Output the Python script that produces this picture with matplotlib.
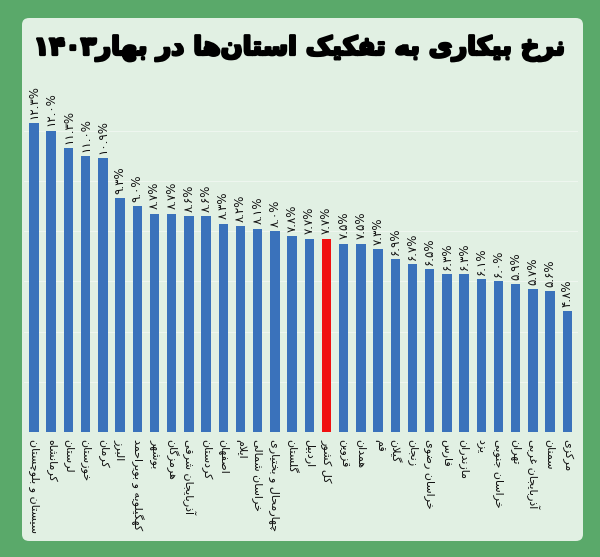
import matplotlib
matplotlib.use("Agg")
import matplotlib.pyplot as plt
import matplotlib.patheffects as pe
from matplotlib.patches import FancyBboxPatch

# ---------------- data ----------------
provinces = [
    "سیستان و بلوچستان", "کرمانشاه", "لرستان", "خوزستان", "کرمان", "البرز",
    "کهگیلویه و بویراحمد", "بوشهر", "هرمزگان", "آذربایجان شرقی", "کردستان",
    "اصفهان", "ایلام", "خراسان شمالی", "چهارمحال و بختیاری", "گلستان",
    "اردبیل", "کل کشور", "قزوین", "همدان", "قم", "گیلان", "زنجان",
    "خراسان رضوی", "فارس", "مازندران", "یزد", "خراسان جنوبی", "تهران",
    "آذربایجان غربی", "سمنان", "مرکزی",
]
rates = [12.3, 12.0, 11.3, 11.0, 10.9, 9.3, 9.0, 8.7, 8.7, 8.6, 8.6, 8.3,
         8.2, 8.1, 8.0, 7.8, 7.7, 7.7, 7.5, 7.5, 7.3, 6.9, 6.7, 6.5, 6.3,
         6.3, 6.1, 6.0, 5.9, 5.7, 5.6, 4.8]
highlight = "کل کشور"
title_text = "نرخ بیکاری به تفکیک استان‌ها در بهار"
title_year = "۱۴۰۳"

# ---------------- simple Persian shaper ----------------
FORMS = {
    'آ': ('\uFE81', '\uFE82', None, None),
    'ا': ('\uFE8D', '\uFE8E', None, None),
    'ب': ('\uFE8F', '\uFE90', '\uFE91', '\uFE92'),
    'پ': ('\uFB56', '\uFB57', '\uFB58', '\uFB59'),
    'ت': ('\uFE95', '\uFE96', '\uFE97', '\uFE98'),
    'ث': ('\uFE99', '\uFE9A', '\uFE9B', '\uFE9C'),
    'ج': ('\uFE9D', '\uFE9E', '\uFE9F', '\uFEA0'),
    'چ': ('\uFB7A', '\uFB7B', '\uFB7C', '\uFB7D'),
    'ح': ('\uFEA1', '\uFEA2', '\uFEA3', '\uFEA4'),
    'خ': ('\uFEA5', '\uFEA6', '\uFEA7', '\uFEA8'),
    'د': ('\uFEA9', '\uFEAA', None, None),
    'ذ': ('\uFEAB', '\uFEAC', None, None),
    'ر': ('\uFEAD', '\uFEAE', None, None),
    'ز': ('\uFEAF', '\uFEB0', None, None),
    'ژ': ('\uFB8A', '\uFB8B', None, None),
    'س': ('\uFEB1', '\uFEB2', '\uFEB3', '\uFEB4'),
    'ش': ('\uFEB5', '\uFEB6', '\uFEB7', '\uFEB8'),
    'ص': ('\uFEB9', '\uFEBA', '\uFEBB', '\uFEBC'),
    'ض': ('\uFEBD', '\uFEBE', '\uFEBF', '\uFEC0'),
    'ط': ('\uFEC1', '\uFEC2', '\uFEC3', '\uFEC4'),
    'ظ': ('\uFEC5', '\uFEC6', '\uFEC7', '\uFEC8'),
    'ع': ('\uFEC9', '\uFECA', '\uFECB', '\uFECC'),
    'غ': ('\uFECD', '\uFECE', '\uFECF', '\uFED0'),
    'ف': ('\uFED1', '\uFED2', '\uFED3', '\uFED4'),
    'ق': ('\uFED5', '\uFED6', '\uFED7', '\uFED8'),
    'ک': ('\uFB8E', '\uFB8F', '\uFB90', '\uFB91'),
    'گ': ('\uFB92', '\uFB93', '\uFB94', '\uFB95'),
    'ل': ('\uFEDD', '\uFEDE', '\uFEDF', '\uFEE0'),
    'م': ('\uFEE1', '\uFEE2', '\uFEE3', '\uFEE4'),
    'ن': ('\uFEE5', '\uFEE6', '\uFEE7', '\uFEE8'),
    'ه': ('\uFEE9', '\uFEEA', '\uFEEB', '\uFEEC'),
    'و': ('\uFEED', '\uFEEE', None, None),
    'ی': ('\uFBFC', '\uFBFD', '\uFBFE', '\uFBFF'),
}
LAMALEF = {'ا': ('\uFEFB', '\uFEFC'), 'آ': ('\uFEF5', '\uFEF6')}


def joins_forward(ch):
    return ch in FORMS and FORMS[ch][2] is not None


def shape(text):
    out = []
    chars = list(text)
    n = len(chars)
    i = 0
    while i < n:
        c = chars[i]
        if c not in FORMS:
            if c != '\u200c':
                out.append(c)
            i += 1
            continue
        prev = chars[i - 1] if i > 0 else None
        nxt = chars[i + 1] if i < n - 1 else None
        jp = joins_forward(prev)
        if c == 'ل' and nxt in LAMALEF:
            out.append(LAMALEF[nxt][1] if jp else LAMALEF[nxt][0])
            i += 2
            continue
        jn = (nxt in FORMS) and joins_forward(c)
        iso, fin, ini, med = FORMS[c]
        if jp and jn:
            g = med
        elif jp:
            g = fin
        elif jn:
            g = ini
        else:
            g = iso
        out.append(g)
        i += 1
    return ''.join(out)[::-1]


FA_DIGITS = str.maketrans("0123456789", "۰۱۲۳۴۵۶۷۸۹")


def fa_pct(v):
    return (f"{v:.1f}".translate(FA_DIGITS)) + "%"


# ---------------- figure ----------------
GREEN = "#5aa96a"
PANEL = "#e1f0e3"
BLUE = "#3a72bb"
RED = "#f01010"

fig = plt.figure(figsize=(6.0, 5.57), dpi=100)
fig.patch.set_facecolor(GREEN)

panel = FancyBboxPatch((22 / 600, 1 - 541 / 557), 561 / 600, 523 / 557,
                       boxstyle="round,pad=0,rounding_size=0.012",
                       transform=fig.transFigure, facecolor=PANEL,
                       edgecolor="none", zorder=-5)
fig.patches.append(panel)

fig.text(0.5, 1 - 48 / 557, title_year + shape(title_text),
         ha="center", va="center", fontsize=18.5, fontweight="bold",
         family=["DejaVu Sans"], color="black", zorder=5,
         path_effects=[pe.withStroke(linewidth=1.8, foreground="black")])

ax = fig.add_axes([23.7 / 600, 1 - 432 / 557, 554 / 600, 339 / 557])
ax.set_zorder(2)
ax.set_facecolor("none")
x = list(range(len(provinces)))
colors = [RED if p == highlight else BLUE for p in provinces]
ax.bar(x, rates, width=0.55, color=colors, zorder=3)
ax.set_xlim(-0.6, len(provinces) - 0.4)
ax.set_ylim(0, 13.5)
ax.set_yticks([0, 2, 4, 6, 8, 10, 12])
ax.yaxis.grid(True, color="#eef6ef", linewidth=0.8, zorder=0)
ax.tick_params(axis="y", left=False, labelleft=False)
ax.tick_params(axis="x", length=0, pad=5)
for s in ax.spines.values():
    s.set_visible(False)

ax.set_xticks(x)
ax.set_xticklabels([shape(p) for p in provinces], rotation=270,
                   fontsize=8, family=["DejaVu Sans"], color="#111111",
                   ha="center", va="top")

for xi, v in zip(x, rates):
    ax.annotate(fa_pct(v), (xi, v), xytext=(0, 3), textcoords="offset points",
                rotation=90, ha="center", va="bottom", fontsize=8.5,
                family=["DejaVu Sans"], color="#111111")

fig.savefig("out.png", dpi=100, facecolor=fig.get_facecolor())
